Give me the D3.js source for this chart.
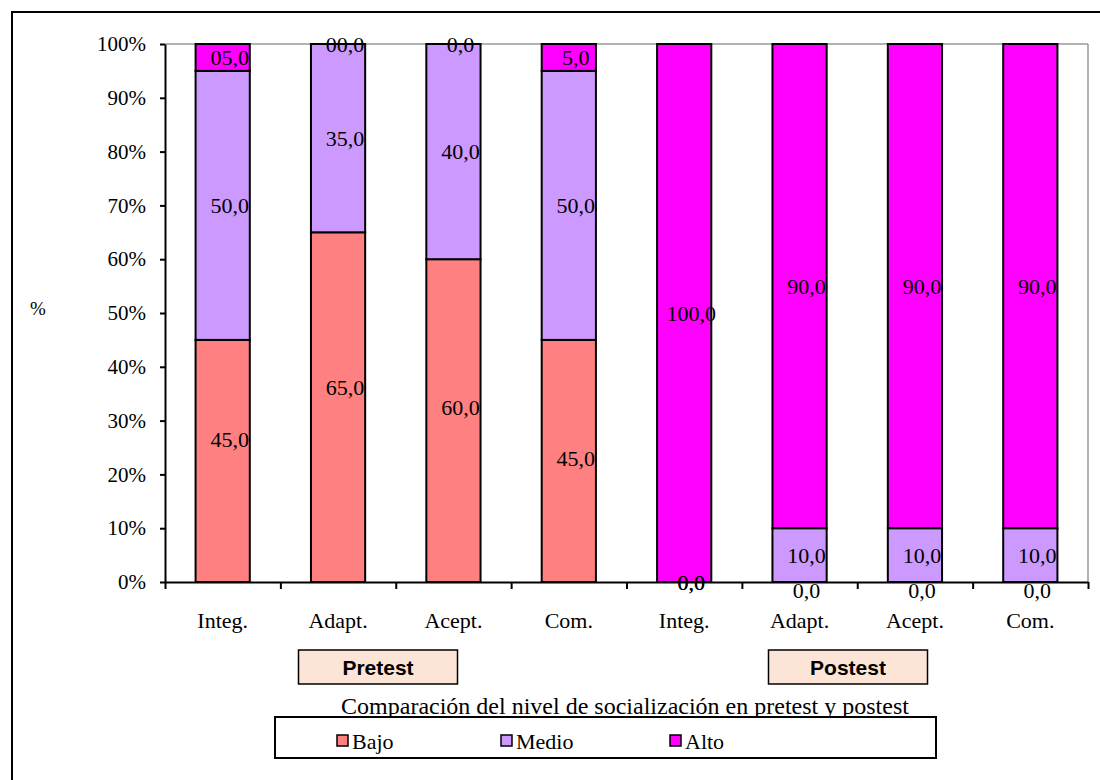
<!DOCTYPE html>
<html>
<head>
<meta charset="utf-8">
<script src="https://cdn.jsdelivr.net/npm/d3@7/dist/d3.min.js"></script>
<style>
  body { margin: 0; background: #fff; }
  svg { display: block; }
  text { font-family: "Liberation Serif", "Times New Roman", serif; fill: #000; }
</style>
</head>
<body>
<svg id="chart" width="1100" height="780"></svg>
<script>
// Socialization level (% of students) per dimension, before and after the program
const categories = ["Integ.", "Adapt.", "Acept.", "Com.", "Integ.", "Adapt.", "Acept.", "Com."];
const phases = ["Pretest", "Postest"];
const seriesNames = ["Bajo", "Medio", "Alto"];
const bajo  = [45, 65, 60, 45, 0, 0, 0, 0];
const medio = [50, 35, 40, 50, 0, 10, 10, 10];
const alto  = [5, 0, 0, 5, 100, 90, 90, 90];
const yTicks = [0, 10, 20, 30, 40, 50, 60, 70, 80, 90, 100];
const chartTitle = "Comparación del nivel de socialización en pretest y postest";
const yTitle = "%";

const colors = { Bajo: "#FF8080", Medio: "#CC99FF", Alto: "#FF00FF" };

// Labels written with a leading zero ("05,0", "00,0")
const zeroPadded = { Alto: [0, 1] };
// Hand-placed vertical shifts of a few value labels
const labelShift = { Bajo: [-21, -20, -13, -2, 0, 8, 8, 8] };

const svg = d3.select("#chart");

// Outer frame (runs past the right and bottom edges)
svg.append("rect")
  .attr("x", 12).attr("y", 12).attr("width", 1200).attr("height", 900)
  .attr("fill", "none").attr("stroke", "#000").attr("stroke-width", 2);

const plotLeft = 165, plotRight = 1088, plotTop = 44, plotBottom = 582;

const y = d3.scaleLinear().domain([0, 100]).range([plotBottom, plotTop]);
const x = d3.scaleBand().domain(d3.range(categories.length)).range([plotLeft, plotRight]).padding(0);
const xEdges = d3.scaleLinear().domain([0, categories.length]).range([plotLeft, plotRight]);
const barW = x.bandwidth() * 0.47;

// Plot border: grey top and right edges
svg.append("line").attr("x1", plotLeft).attr("x2", plotRight).attr("y1", y(100)).attr("y2", y(100))
  .attr("stroke", "#999").attr("stroke-width", 1.5);
svg.append("line").attr("x1", plotRight).attr("x2", plotRight).attr("y1", y(100)).attr("y2", y(0))
  .attr("stroke", "#999").attr("stroke-width", 1.5);

// Stacked data
const rows = categories.map((c, i) => ({ i, Bajo: bajo[i], Medio: medio[i], Alto: alto[i] }));
const stack = d3.stack().keys(seriesNames)(rows);

const g = svg.append("g");
stack.forEach(layer => {
  g.selectAll(null).data(layer).enter().append("rect")
    .attr("x", d => x(d.data.i) + (x.bandwidth() - barW) / 2)
    .attr("y", d => y(d[1]))
    .attr("width", barW)
    .attr("height", d => y(d[0]) - y(d[1]))
    .attr("fill", colors[layer.key])
    .attr("stroke", "#000")
    .attr("stroke-width", 2);
});

// Value labels
const fmt = (v, pad) => {
  let s = d3.format(".1f")(v);
  if (pad && v < 10) s = "0" + s;
  return s.replace(".", ",");
};
stack.forEach(layer => {
  const key = layer.key;
  g.selectAll(null).data(layer).enter().append("text")
    .attr("x", d => x(d.data.i) + x.bandwidth() / 2 + 7)
    .attr("y", d => (y(d[0]) + y(d[1])) / 2 + (labelShift[key] ? labelShift[key][d.data.i] : 0))
    .attr("text-anchor", "middle")
    .attr("dominant-baseline", "central")
    .attr("font-size", 22)
    .text(d => fmt(d.data[key], (zeroPadded[key] || []).includes(d.data.i)));
});

// Y axis
const yAxis = svg.append("g").attr("transform", `translate(${plotLeft},0)`)
  .call(d3.axisLeft(y).tickValues(yTicks).tickFormat(d => d + "%").tickSize(5).tickPadding(14).tickSizeOuter(0));
yAxis.select(".domain").attr("stroke", "#000").attr("stroke-width", 2);
yAxis.selectAll(".tick line").attr("stroke", "#000").attr("stroke-width", 2);
yAxis.selectAll(".tick text").attr("font-size", 21).attr("font-family", "Liberation Serif");

// X axis: boundary ticks
const xAxis = svg.append("g").attr("transform", `translate(0,${plotBottom})`)
  .call(d3.axisBottom(xEdges).tickValues(d3.range(categories.length + 1)).tickFormat("").tickSize(7).tickSizeOuter(0));
xAxis.select(".domain").attr("stroke", "#000").attr("stroke-width", 2);
xAxis.selectAll(".tick line").attr("stroke", "#000").attr("stroke-width", 2);

// X axis: category names
const xLabels = svg.append("g").attr("transform", `translate(0,${plotBottom})`)
  .call(d3.axisBottom(x).tickFormat(i => categories[i]).tickSize(0).tickPadding(30));
xLabels.select(".domain").remove();
xLabels.selectAll(".tick text").attr("font-size", 22).attr("font-family", "Liberation Serif");

// Y axis title
svg.append("text").attr("x", 38).attr("y", 308).attr("text-anchor", "middle")
  .attr("dominant-baseline", "central").attr("font-size", 19).text(yTitle);

// Phase boxes under each half
const phaseCenters = [378, 848];
phases.forEach((p, k) => {
  const cx = phaseCenters[k];
  const bw = 159, bh = 34;
  svg.append("rect").attr("x", cx - bw / 2).attr("y", 650).attr("width", bw).attr("height", bh)
    .attr("fill", "#FCE4D6").attr("stroke", "#000").attr("stroke-width", 1.5);
  svg.append("text").attr("x", cx).attr("y", 667).attr("text-anchor", "middle")
    .attr("dominant-baseline", "central")
    .style("font-family", "'Liberation Sans', Arial, sans-serif")
    .attr("font-weight", "bold").attr("font-size", 21).text(p);
});

// Chart title
svg.append("text").attr("x", 625).attr("y", 706).attr("text-anchor", "middle")
  .attr("dominant-baseline", "central").attr("font-size", 24).text(chartTitle);

// Legend
const legend = svg.append("g");
legend.append("rect").attr("x", 275).attr("y", 717).attr("width", 661).attr("height", 41)
  .attr("fill", "#fff").attr("stroke", "#000").attr("stroke-width", 2);
const legendX = [337, 501, 670];
seriesNames.forEach((s, k) => {
  legend.append("rect").attr("x", legendX[k]).attr("y", 735).attr("width", 11).attr("height", 11)
    .attr("fill", colors[s]).attr("stroke", "#000").attr("stroke-width", 1.5);
  legend.append("text").attr("x", legendX[k] + 15).attr("y", 741)
    .attr("dominant-baseline", "central").attr("font-size", 22).text(s);
});
</script>
</body>
</html>
